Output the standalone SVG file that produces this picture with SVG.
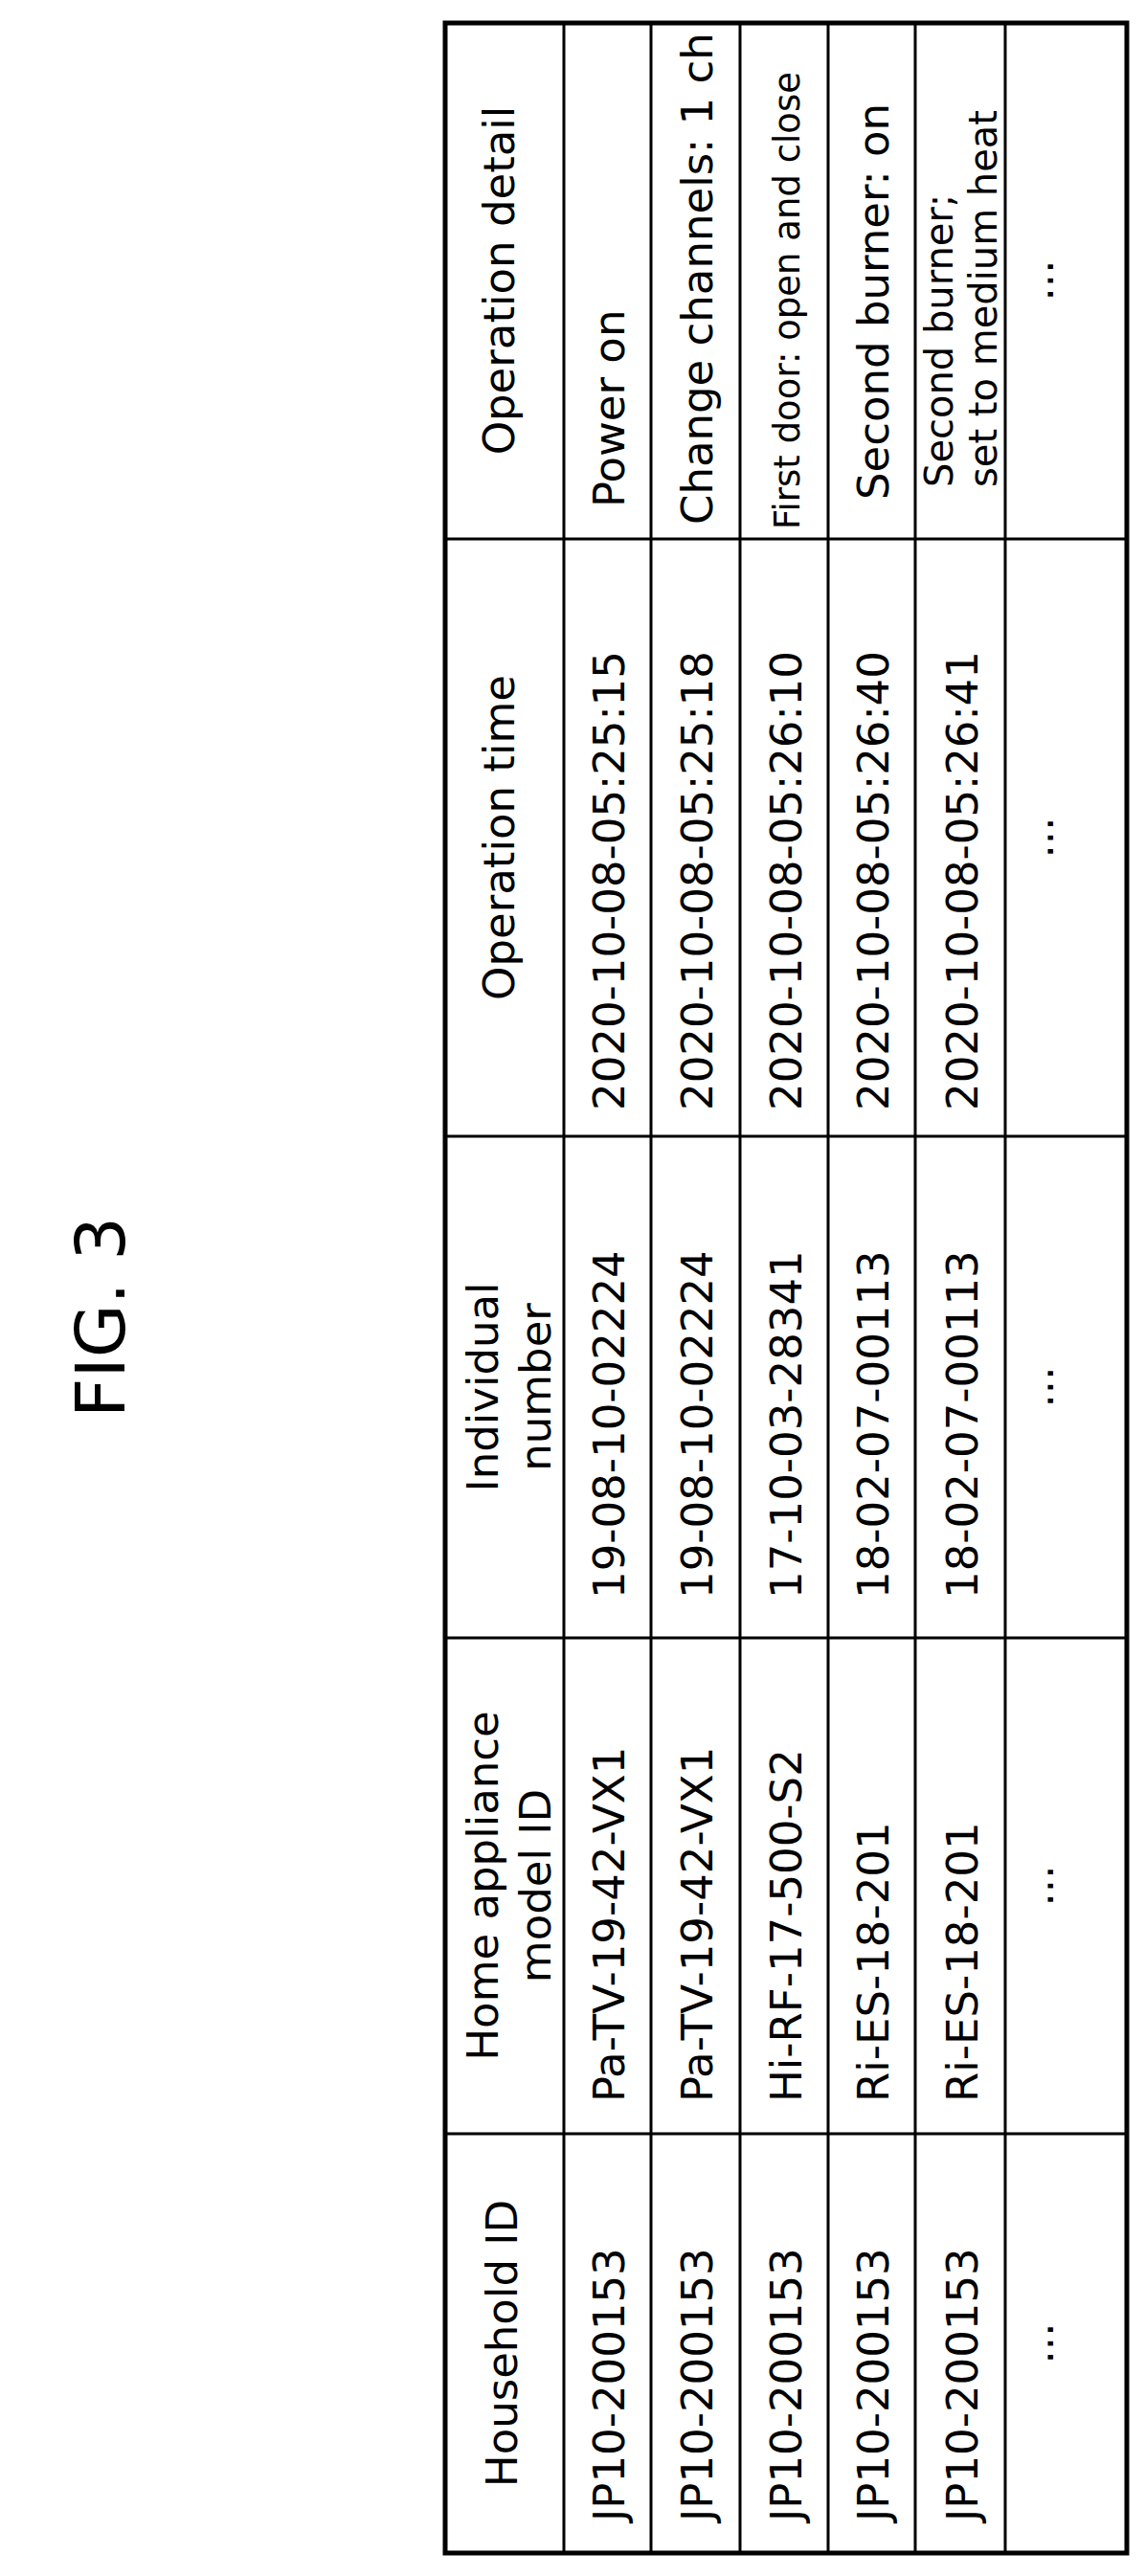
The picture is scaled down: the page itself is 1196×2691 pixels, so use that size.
<svg xmlns="http://www.w3.org/2000/svg" width="1196" height="2691" viewBox="0 0 1196 2691">
<style>
.t{font-family:"DejaVu Sans",sans-serif;font-size:45px;fill:#000}
.m{text-anchor:middle}
.s{font-size:37px}
.b{font-size:40px}
.ln{stroke:#000;stroke-width:3;fill:none}
</style>
<rect width="1196" height="2691" fill="#fff"/>
<g id="title"><text class="t m" transform="translate(130,1376) rotate(-90)" style="font-size:72px">FIG. 3</text></g>
<g id="grid">
<rect x="465" y="24" width="712" height="2643" class="ln" style="stroke-width:5"/>
<path class="ln" d="M589 24V2667M680 24V2667M773 24V2667M865 24V2667M956 24V2667M1050 24V2667M465 563H1177M465 1187H1177M465 1711H1177M465 2229H1177"/>
</g>
<g id="headers">
<text class="t m" transform="translate(540,2448) rotate(-90)">Household ID</text>
<text class="t m" transform="translate(520,1970) rotate(-90)">Home appliance</text>
<text class="t m" transform="translate(575,1970) rotate(-90)">model ID</text>
<text class="t m" transform="translate(520,1449) rotate(-90)">Individual</text>
<text class="t m" transform="translate(575,1449) rotate(-90)">number</text>
<text class="t m" transform="translate(537,875) rotate(-90)">Operation time</text>
<text class="t m" transform="translate(537,293) rotate(-90)">Operation detail</text>
</g>
<g id="rows">
<text class="t" transform="translate(652,2634) rotate(-90)">JP10-200153</text>
<text class="t" transform="translate(744,2634) rotate(-90)">JP10-200153</text>
<text class="t" transform="translate(837,2634) rotate(-90)">JP10-200153</text>
<text class="t" transform="translate(928,2634) rotate(-90)">JP10-200153</text>
<text class="t" transform="translate(1021,2634) rotate(-90)">JP10-200153</text>
<text class="t m" transform="translate(1100,2448) rotate(-90)">...</text>

<text class="t" transform="translate(652,2196) rotate(-90)">Pa-TV-19-42-VX1</text>
<text class="t" transform="translate(744,2196) rotate(-90)">Pa-TV-19-42-VX1</text>
<text class="t" transform="translate(837,2196) rotate(-90)">Hi-RF-17-500-S2</text>
<text class="t" transform="translate(928,2196) rotate(-90)">Ri-ES-18-201</text>
<text class="t" transform="translate(1021,2196) rotate(-90)">Ri-ES-18-201</text>
<text class="t m" transform="translate(1100,1970) rotate(-90)">...</text>

<text class="t" transform="translate(652,1670) rotate(-90)">19-08-10-02224</text>
<text class="t" transform="translate(744,1670) rotate(-90)">19-08-10-02224</text>
<text class="t" transform="translate(837,1670) rotate(-90)">17-10-03-28341</text>
<text class="t" transform="translate(928,1670) rotate(-90)">18-02-07-00113</text>
<text class="t" transform="translate(1021,1670) rotate(-90)">18-02-07-00113</text>
<text class="t m" transform="translate(1100,1449) rotate(-90)">...</text>

<text class="t" transform="translate(652,1160) rotate(-90)">2020-10-08-05:25:15</text>
<text class="t" transform="translate(744,1160) rotate(-90)">2020-10-08-05:25:18</text>
<text class="t" transform="translate(837,1160) rotate(-90)">2020-10-08-05:26:10</text>
<text class="t" transform="translate(928,1160) rotate(-90)">2020-10-08-05:26:40</text>
<text class="t" transform="translate(1021,1160) rotate(-90)">2020-10-08-05:26:41</text>
<text class="t m" transform="translate(1100,875) rotate(-90)">...</text>

<text class="t" transform="translate(652,530) rotate(-90)">Power on</text>
<text class="t" transform="translate(744,548) rotate(-90)">Change channels: 1 ch</text>
<text class="t s" transform="translate(835,553) rotate(-90)">First door: open and close</text>
<text class="t" transform="translate(928,522) rotate(-90)">Second burner: on</text>
<text class="t b" transform="translate(995,509) rotate(-90)">Second burner;</text>
<text class="t b" transform="translate(1041,509) rotate(-90)">set to medium heat</text>
<text class="t m" transform="translate(1100,293) rotate(-90)">...</text>
</g>
</svg>
